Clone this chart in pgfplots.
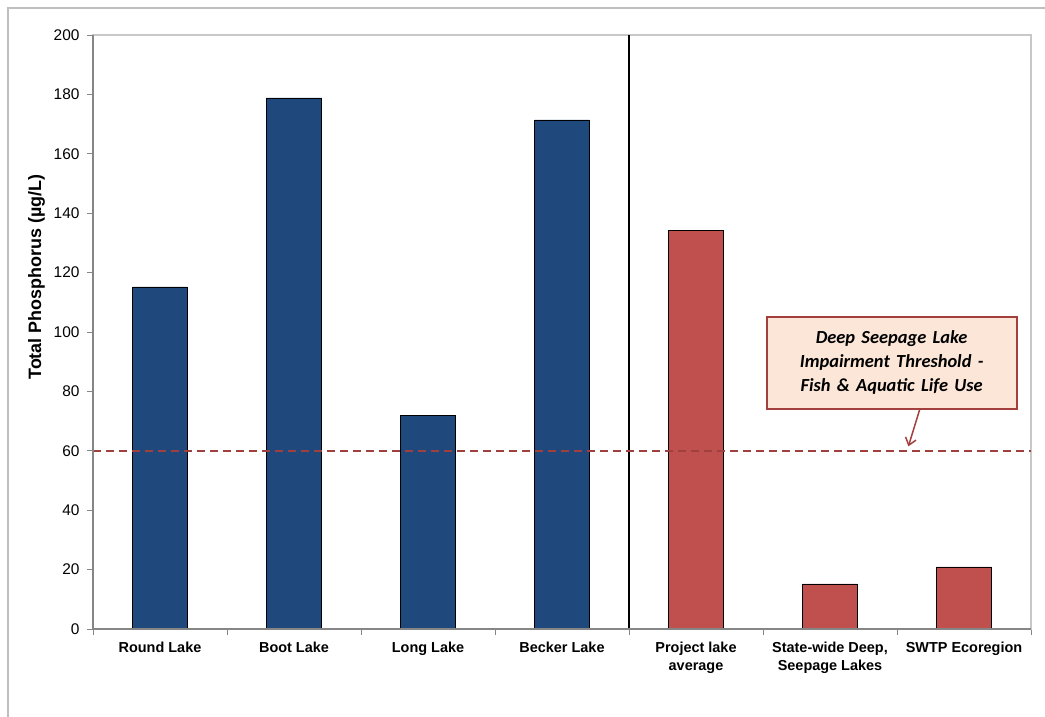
\documentclass[border=0pt]{standalone}
\usepackage{fontspec}
\setmainfont{Liberation Sans}
\newfontfamily\calibri[WordSpace=1.5]{Carlito}
\usepackage{pgfplots}
\pgfplotsset{compat=1.18}
\usetikzlibrary{arrows.meta}
\definecolor{barblue}{HTML}{1F497D}
\definecolor{barred}{HTML}{C0504D}
\definecolor{dashred}{HTML}{A0403E}
\definecolor{calloutfill}{HTML}{FCE6D8}
\definecolor{calloutborder}{HTML}{A3403E}
\definecolor{framegray}{HTML}{BFBFBF}
\definecolor{lightaxis}{HTML}{C8C8C8}
\definecolor{axisgray}{HTML}{868686}
\begin{document}
\begin{tikzpicture}
\path[use as bounding box] (0bp,0bp) rectangle (1045bp,717bp);
\draw[color=framegray, line width=2bp] (8bp,0bp) -- (8bp,709bp) -- (1045bp,709bp);
\begin{axis}[
  at={(93bp,88bp)}, anchor=south west,
  scale only axis, width=938bp, height=594bp,
  xmin=-0.5, xmax=6.5, ymin=0, ymax=200,
  ytick={0,20,...,200},
  xtick={-0.5,0.5,...,6.5},
  x tick label as interval,
  xticklabels={Round Lake, Boot Lake, Long Lake, Becker Lake, {Project lake\\average}, {State-wide Deep,\\Seepage Lakes}, SWTP Ecoregion},
  tick pos=left,
  tick align=outside,
  major tick length=6bp,
  tick style={color=axisgray, line width=0.8bp},
  axis line style={color=lightaxis, line width=1.5bp},
  /pgf/number format/assume math mode=true,
  yticklabel style={font=\fontsize{15.5}{18}\selectfont, xshift=-4bp},
  xticklabel style={font=\bfseries\fontsize{14.5}{17.5}\selectfont, align=center, yshift=-4bp},
  every axis y label/.style={at={(axis description cs:-0.0554,0.5926)}, rotate=90, anchor=base},
  ylabel={\bfseries\fontsize{18}{21}\selectfont Total Phosphorus (µg/L)},
  clip=false,
]
\addplot[ybar, bar width=0.41, bar shift=0pt, fill=barblue, draw=black, line width=0.6bp]
  coordinates {(0,115.2) (1,178.8) (2,71.8) (3,171.4)};
\addplot[ybar, bar width=0.41, bar shift=0pt, fill=barred, draw=black, line width=0.6bp]
  coordinates {(4,134.1) (5,15.2) (6,20.9)};
\addplot[black, line width=2bp] coordinates {(3.5,0) (3.5,200)};
\addplot[color=dashred, line width=1.6bp, dash pattern=on 8bp off 5bp] coordinates {(-0.5,60) (6.5,60)};
\draw[color=axisgray, line width=1.8bp] (rel axis cs:0,1) -- (rel axis cs:0,0) -- (rel axis cs:1,0);
\node[draw=calloutborder, line width=2.2bp, fill=calloutfill, minimum width=250bp, minimum height=92bp, align=center, font=\calibri\bfseries\itshape\fontsize{18.5}{24}\selectfont] at (axis cs:5.46,89.6) {Deep Seepage Lake\\Impairment Threshold -\\Fish \& Aquatic Life Use};
\draw[-{Straight Barb[length=7bp,width=11bp]}, line width=1.5bp, color=calloutborder] (axis cs:5.67,74.0) -- (axis cs:5.585,61.5);
\end{axis}
\end{tikzpicture}
\end{document}
